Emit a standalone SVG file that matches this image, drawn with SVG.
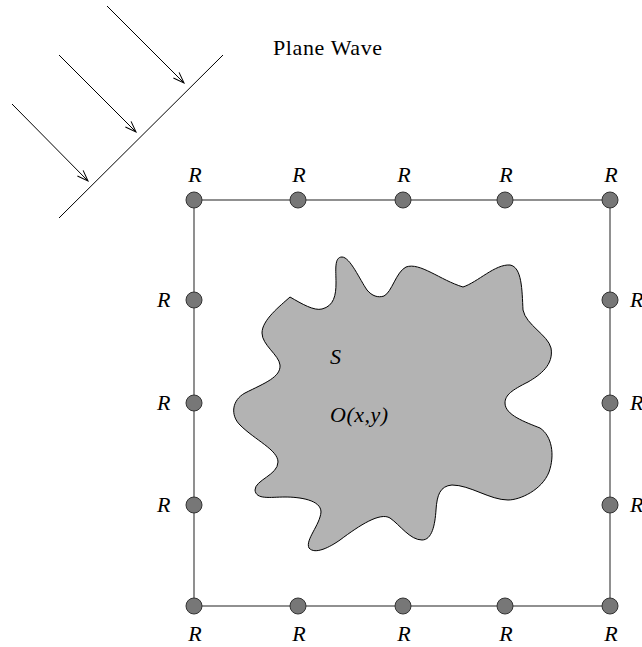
<svg xmlns="http://www.w3.org/2000/svg" width="642" height="647" viewBox="0 0 642 647">
<style>
.t{font-family:"Liberation Serif","Times New Roman",serif;font-size:22px;fill:#000}
.i{font-style:italic}
.r{fill:#777;stroke:#333;stroke-width:1}
.ln{stroke:#000;stroke-width:1;fill:none}
</style>
<defs>
<marker id="ah" markerWidth="14" markerHeight="10" refX="12" refY="5" orient="auto" markerUnits="userSpaceOnUse">
<path d="M1,1 L12,5 L1,9" fill="none" stroke="#000" stroke-width="1"/>
</marker>
</defs>
<rect width="642" height="647" fill="#fff"/>
<g id="connectors">
<line class="ln" x1="59" y1="218" x2="223" y2="55"/>
<line class="ln" x1="107" y1="6" x2="184" y2="83" marker-end="url(#ah)"/>
<line class="ln" x1="59" y1="55" x2="136" y2="132" marker-end="url(#ah)"/>
<line class="ln" x1="12" y1="104" x2="88" y2="181" marker-end="url(#ah)"/>
<rect x="194" y="200" width="416" height="406" fill="none" stroke="#555" stroke-width="1.3"/>
</g>
<text class="t" x="273" y="55" textLength="109">Plane Wave</text>
<g id="scatterer">
<path d="M290,297 C302,304 314,311 322,309 C334,306 336,295 336,283 C336,270 334,257 342,257 C350,257 360,280 367,290 C372,296 378,298 384,296 C392,292 396,272 406,267 C420,262 440,280 463,287 C478,282 495,264 510,265 C522,267 522,290 523,310 C526,325 548,335 551,348 C554,365 540,375 528,382 C512,390 505,395 505,403 C505,415 525,422 540,428 C552,436 555,455 549,472 C542,490 520,500 508,500 C490,500 470,485 452,485 C440,486 437,495 436,510 C435,525 432,540 422,540 C410,540 400,525 390,518 C380,512 360,525 340,540 C330,547 315,555 309,548 C305,540 320,525 321,512 C321,500 300,497 285,497 C270,497 256,500 255,490 C255,480 278,475 278,462 C278,450 255,440 240,425 C230,415 232,400 245,393 C265,383 281,377 280,365 C279,355 262,345 262,333 C262,320 280,306 290,297 Z" fill="#b3b3b3" stroke="#000" stroke-width="1"/>
<text class="t i" x="330" y="364">S</text>
<text class="t i" x="330" y="422" textLength="58">O(x,y)</text>
</g>
<g id="receivers">
<g id="top">
<circle class="r" cx="194" cy="200" r="8"/><circle class="r" cx="298" cy="200" r="8"/><circle class="r" cx="403" cy="200" r="8"/><circle class="r" cx="505" cy="200" r="8"/><circle class="r" cx="610" cy="200" r="8"/>
<text class="t i" x="195" y="182" text-anchor="middle">R</text><text class="t i" x="299" y="182" text-anchor="middle">R</text><text class="t i" x="404" y="182" text-anchor="middle">R</text><text class="t i" x="506" y="182" text-anchor="middle">R</text><text class="t i" x="611" y="182" text-anchor="middle">R</text>
</g>
<g id="bottom">
<circle class="r" cx="194" cy="606" r="8"/><circle class="r" cx="298" cy="606" r="8"/><circle class="r" cx="403" cy="606" r="8"/><circle class="r" cx="505" cy="606" r="8"/><circle class="r" cx="610" cy="606" r="8"/>
<text class="t i" x="195" y="641" text-anchor="middle">R</text><text class="t i" x="299" y="641" text-anchor="middle">R</text><text class="t i" x="404" y="641" text-anchor="middle">R</text><text class="t i" x="506" y="641" text-anchor="middle">R</text><text class="t i" x="611" y="641" text-anchor="middle">R</text>
</g>
<g id="left">
<circle class="r" cx="194" cy="300" r="8"/><circle class="r" cx="194" cy="403" r="8"/><circle class="r" cx="194" cy="505" r="8"/>
<text class="t i" x="157" y="307">R</text><text class="t i" x="157" y="410">R</text><text class="t i" x="157" y="512">R</text>
</g>
<g id="right">
<circle class="r" cx="610" cy="300" r="8"/><circle class="r" cx="610" cy="403" r="8"/><circle class="r" cx="610" cy="505" r="8"/>
<text class="t i" x="630" y="307">R</text><text class="t i" x="630" y="410">R</text><text class="t i" x="630" y="512">R</text>
</g>
</g>
</svg>
